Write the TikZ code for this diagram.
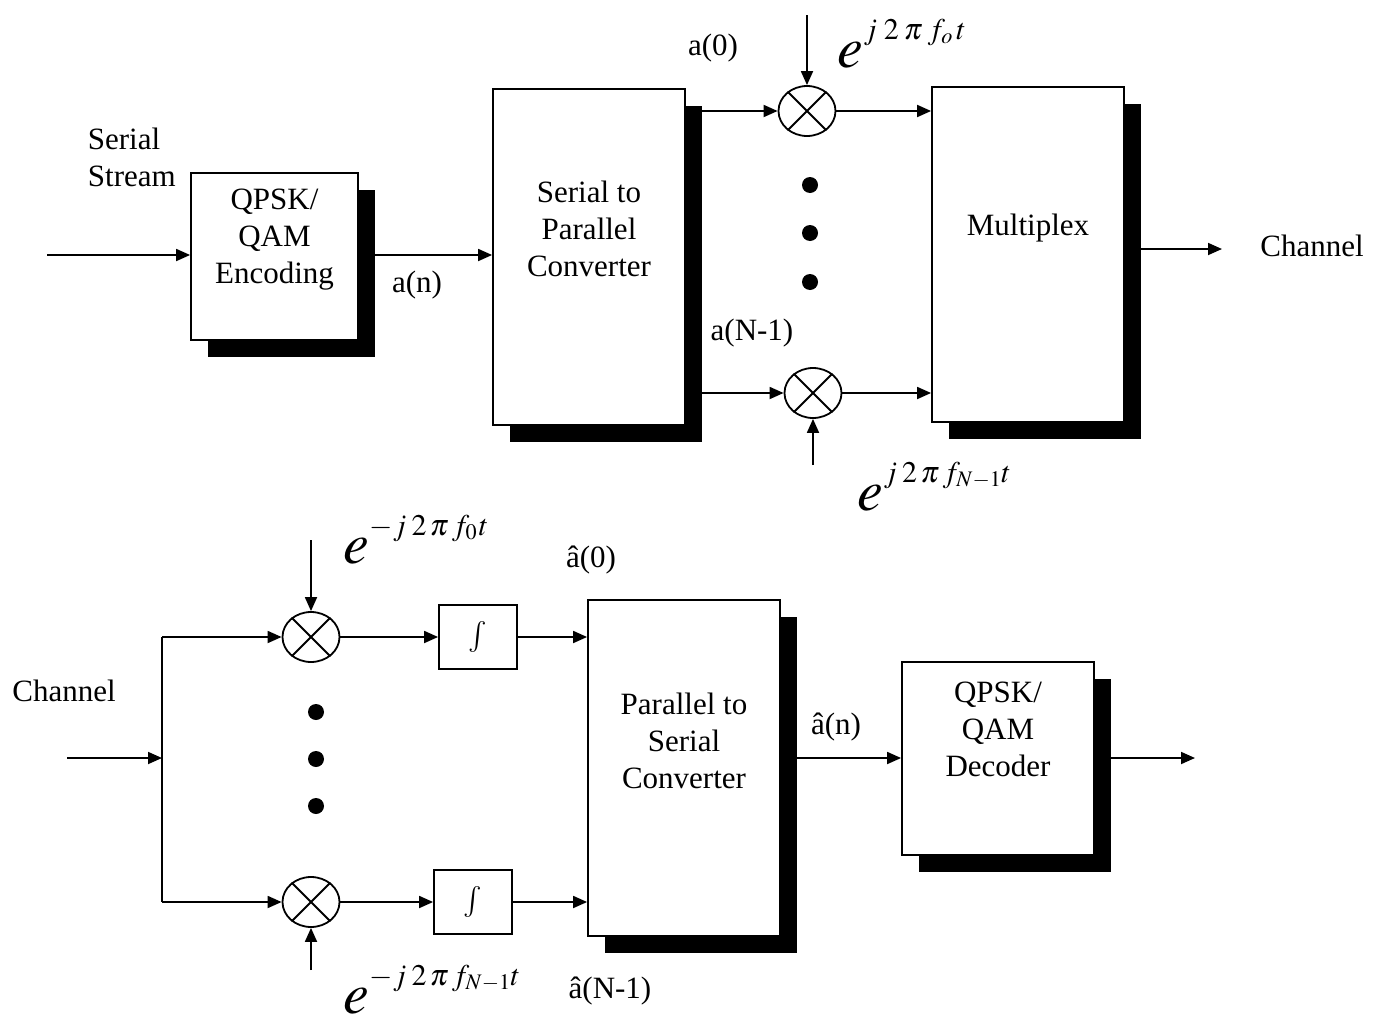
\documentclass[tikz,border=0pt]{standalone}
\usepackage{mathptmx}
\usepackage{fontspec}
\setmainfont{Liberation Serif}
\usetikzlibrary{arrows.meta,shapes.geometric,shadows}

% carrier: large e with a small raised exponent
\newcommand{\osc}[1]{{\fontsize{58}{58}\selectfont$e$}\raisebox{28pt}{\fontsize{30}{30}\selectfont$#1$}}

\begin{document}
\begin{tikzpicture}[
        x=1pt, y=-1pt,
        >={Triangle[length=14pt,width=12pt]},
        line width=1.8pt,
        every node/.style={font=\fontsize{31}{37}\selectfont, inner sep=0pt},
        blk/.style={draw, fill=white,
            drop shadow={shadow xshift=17pt, shadow yshift=-17pt, fill=black, opacity=1}},
        integ/.style={draw, fill=white, minimum width=78pt, minimum height=64pt},
        mixer/.style={draw, ellipse, minimum width=57pt, minimum height=50pt},
        lo/.style={anchor=base west}
    ]

        \useasboundingbox (0,0) rectangle (1385,1017);

        % Transmitter
        \node[blk, minimum width=167pt, minimum height=167pt] (enc) at (274.5,256.5) {};
        \node[align=center] (enct) at ([yshift=17pt]enc.center) {QPSK/\\QAM\\Encoding};
        \node[blk, minimum width=192pt, minimum height=336pt] (sp) at (589,257) {};
        \node[align=center] (spt) at ([yshift=28pt]sp.center) {Serial to\\Parallel\\Converter};
        \node[blk, minimum width=192pt, minimum height=335pt] (mux) at (1028,254.5) {};
        \node (muxt) at ([yshift=26pt]mux.center) {Multiplex};

        \node[mixer] (mxa) at (807,111) {};
        \node[mixer] (mxb) at (813,393) {};

        \coordinate (txin) at (47,255);
        \coordinate (txout) at (1222,249);
        \coordinate (loa) at (807,15);
        \coordinate (lob) at (813,465);

        \draw[->] (txin) -- (enc.west |- txin);
        \draw[->] (enc.east |- txin) -- (sp.west |- txin);
        \draw[->] (sp.east |- mxa) -- (mxa.west);
        \draw[->] (sp.east |- mxb) -- (mxb.west);
        \draw[->] (mxa.east) -- (mux.west |- mxa);
        \draw[->] (mxb.east) -- (mux.west |- mxb);
        \draw[->] (loa) -- (mxa.north);
        \draw[->] (lob) -- (mxb.south);
        \draw[->] (mux.east |- txout) -- (txout);

        \foreach \y in {185,233,282}
            \fill (810,\y) circle (8pt);

        \node[align=left, anchor=west] (ser) at (87,157.5) {Serial\\Stream};
        \node (an) at (417,285) {a(n)};
        \node (a0) at (713,48) {a(0)};
        \node (aN) at (752,333) {a(N-1)};
        \node (cha) at (1312,246) {Channel};
        \node[lo] (lota) at (837,67) {\osc{j\mkern4mu 2\mkern3mu\pi\mkern3mu f_o\mkern2mu t}};
        \node[lo] (lotb) at (857,510) {\osc{j\mkern3mu 2\mkern2mu\pi\mkern2mu f_{N{-}1}t}};

        % Receiver
        \node[mixer] (dxa) at (311,637) {};
        \node[mixer] (dxb) at (311,902) {};
        \node[integ] (inta) at (478,637) {$\int$};
        \node[integ] (intb) at (473,902) {$\int$};
        \node[blk, minimum width=192pt, minimum height=336pt] (ps) at (684,768) {};
        \node[align=center] (pst) at ([yshift=27pt]ps.center) {Parallel to\\Serial\\Converter};
        \node[blk, minimum width=192pt, minimum height=193pt] (dec) at (998,758.5) {};
        \node[align=center] (dect) at ([yshift=29.5pt]dec.center) {QPSK/\\QAM\\Decoder};

        \coordinate (rxin) at (67,758);
        \coordinate (rxj) at (162,758);
        \coordinate (rxa) at (162,637);
        \coordinate (rxb) at (162,902);
        \coordinate (rxout) at (1195,758);
        \coordinate (loc) at (311,540);
        \coordinate (lod) at (311,970);

        \draw[->] (rxin) -- (rxj);
        \draw (rxa) -- (rxb);
        \draw[->] (rxa) -- (dxa.west);
        \draw[->] (rxb) -- (dxb.west);
        \draw[->] (loc) -- (dxa.north);
        \draw[->] (lod) -- (dxb.south);
        \draw[->] (dxa.east) -- (inta.west);
        \draw[->] (dxb.east) -- (intb.west);
        \draw[->] (inta.east) -- (ps.west |- inta);
        \draw[->] (intb.east) -- (ps.west |- intb);
        \draw[->] (ps.east |- rxj) -- (dec.west |- rxj);
        \draw[->] (dec.east |- rxj) -- (rxout);

        \foreach \y in {712,759,806}
            \fill (316,\y) circle (8pt);

        % crosses in the mixers
        \foreach \m in {mxa,mxb,dxa,dxb}
            \draw (\m.45) -- (\m.225) (\m.135) -- (\m.315);

        \node (chb) at (64,691) {Channel};
        \node (ha0) at (591,560) {\^{a}(0)};
        \node (haN) at (610,991) {\^{a}(N-1)};
        \node (han) at (836,727) {\^{a}(n)};
        \node[lo] (lotc) at (343,563) {\osc{-j\mkern3mu 2\mkern2mu\pi\mkern2mu f_0\mkern1mu t}};
        \node[lo] (lotd) at (343,1013) {\osc{-j\mkern3mu 2\mkern2mu\pi\mkern2mu f_{N{-}1}t}};

    \end{tikzpicture}
\end{document}
